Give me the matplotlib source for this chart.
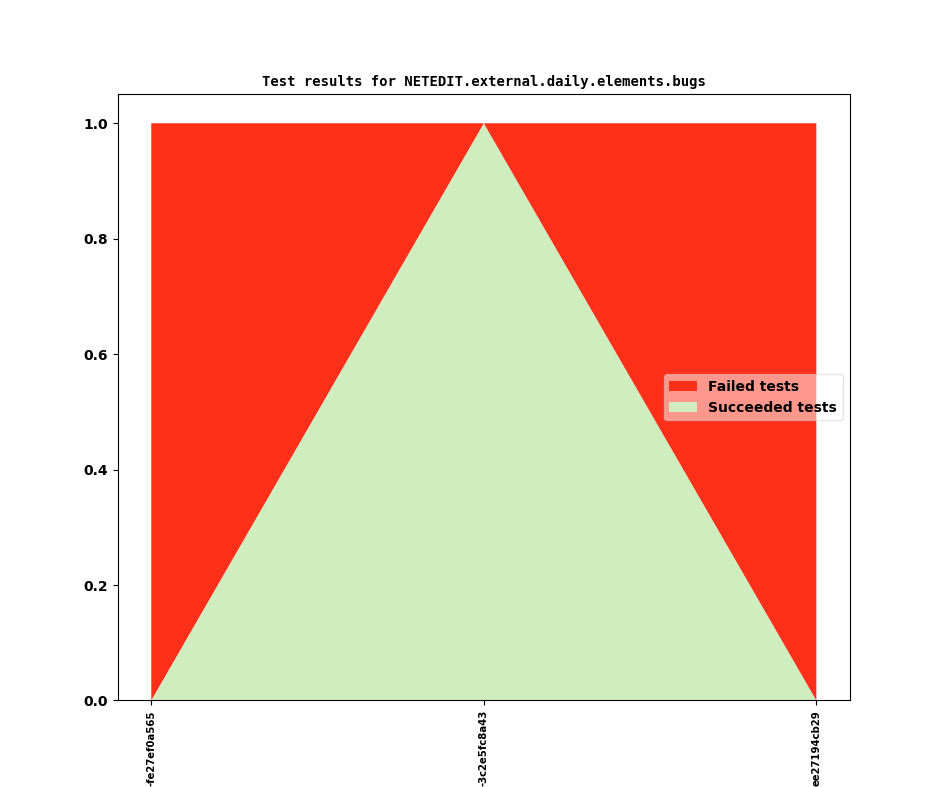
import matplotlib
import matplotlib.pyplot as plt
matplotlib.use("agg")

commits = ["-fe27ef0a565", "-3c2e5fc8a43", "ee27194cb29"]
succeeded = [0, 1, 0]
failed = [1, 0, 1]

fig, ax = plt.subplots(figsize=(9.44, 7.87), dpi=100)
x = list(range(len(commits)))
ax.stackplot(
    x, succeeded, failed,
    colors=["#cfedbe", "#ff301a"],
    labels=["Succeeded tests", "Failed tests"],
)
ax.set_title("Test results for NETEDIT.external.daily.elements.bugs",
             fontfamily="monospace", fontweight="bold", fontsize=10)
ax.set_xticks(x)
ax.set_xticklabels(commits, rotation=90, fontsize=7.3, fontweight="bold")
for lbl in ax.get_yticklabels():
    lbl.set_fontweight("bold")
handles, labels = ax.get_legend_handles_labels()
ax.legend(handles[::-1], labels[::-1], loc="center right",
          framealpha=0.5, prop={"weight": "bold"})
plt.savefig("out.png")
